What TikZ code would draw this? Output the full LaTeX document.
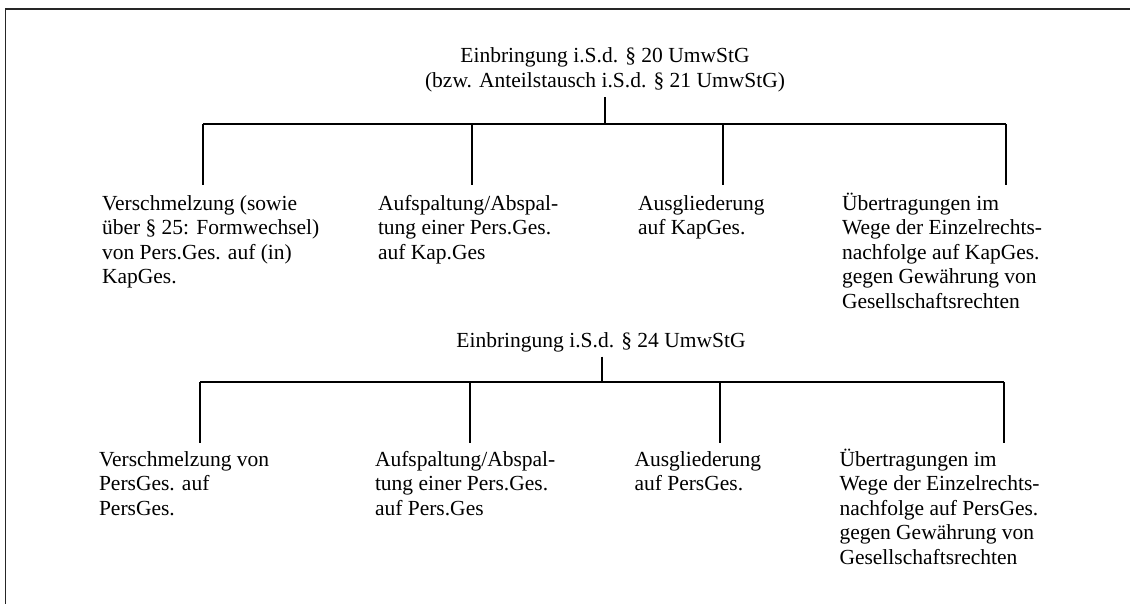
\documentclass[tikz,border=0pt]{standalone}
\usepackage{fontspec}
\setmainfont{Liberation Serif}
\usetikzlibrary{positioning}

\newcommand{\hgt}{\rule{0pt}{20pt}}

\begin{document}
\begin{tikzpicture}[x=1pt,y=-1pt,line width=1.3pt,
  txt/.style={anchor=north west,inner sep=0,outer sep=0,align=left,font=\fontsize{21.5}{24.5}\selectfont},
  head/.style={anchor=north,inner sep=0,outer sep=0,align=center,font=\fontsize{21.5}{24.5}\selectfont},
  frame/.style={line width=1.8pt,black!85}]

\useasboundingbox (0,0) rectangle (1130,604);
\draw[frame] (5.5,604) |- (1130,9);

% Nodes
\node[head] (t1) at (605,43) {\hgt Einbringung i.S.d. § 20 UmwStG\\(bzw. Anteilstausch i.S.d. § 21 UmwStG)};

\node[txt] (k1) at (102,190) {\hgt Verschmelzung (sowie\\über § 25: Formwechsel)\\von Pers.Ges. auf (in)\\KapGes.};
\node[txt] (k2) at (378,190) {\hgt Aufspaltung/Abspal-\\tung einer Pers.Ges.\\auf Kap.Ges};
\node[txt] (k3) at (638,190) {\hgt Ausgliederung\\auf KapGes.};
\node[txt] (k4) at (842,190) {\hgt Übertragungen im\\Wege der Einzelrechts-\\nachfolge auf KapGes.\\gegen Gewährung von\\Gesellschaftsrechten};

\node[head] (t2) at (601,327) {\hgt Einbringung i.S.d. § 24 UmwStG};

\node[txt] (p1) at (99,446) {\hgt Verschmelzung von\\PersGes. auf\\PersGes.};
\node[txt] (p2) at (375,446) {\hgt Aufspaltung/Abspal-\\tung einer Pers.Ges.\\auf Pers.Ges};
\node[txt] (p3) at (634.5,446) {\hgt Ausgliederung\\auf PersGes.};
\node[txt] (p4) at (839.5,446) {\hgt Übertragungen im\\Wege der Einzelrechts-\\nachfolge auf PersGes.\\gegen Gewährung von\\Gesellschaftsrechten};

% bars
\coordinate (s1) at (605,124);
\coordinate (b11) at (203,124);
\coordinate (b12) at (472,124);
\coordinate (b13) at (723,124);
\coordinate (b14) at (1006,124);

\coordinate (s2) at (602,382);
\coordinate (b21) at (200,382);
\coordinate (b22) at (470,382);
\coordinate (b23) at (720,382);
\coordinate (b24) at (1004,382);

%arcs
\path ([yshift=-5pt]t1.south -| s1) edge (s1);
\path (b11) edge (b14);
\path (b11) edge ([yshift=5pt]b11 |- k1.north);
\path (b12) edge ([yshift=5pt]b12 |- k2.north);
\path (b13) edge ([yshift=5pt]b13 |- k3.north);
\path (b14) edge ([yshift=5pt]b14 |- k4.north);

\path ([yshift=-5pt]t2.south -| s2) edge (s2);
\path (b21) edge (b24);
\path (b21) edge ([yshift=3pt]b21 |- p1.north);
\path (b22) edge ([yshift=3pt]b22 |- p2.north);
\path (b23) edge ([yshift=3pt]b23 |- p3.north);
\path (b24) edge ([yshift=3pt]b24 |- p4.north);

\end{tikzpicture}
\end{document}
